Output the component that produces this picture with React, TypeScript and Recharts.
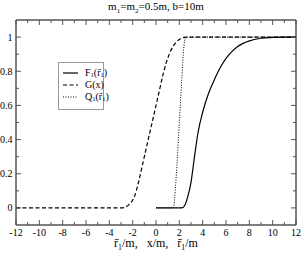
import React from 'react';
import { LineChart, Line, XAxis, YAxis, Legend } from 'recharts';

// F1(r1) – solid
const fX = [0, 1, 2, 2.3, 2.5, 2.7, 3.0, 3.3, 3.6, 4.0, 4.5, 5.0, 5.5, 6.0, 6.5, 7.0, 8.0, 9.0, 10.0, 11.0, 12.0];
const fY = [0, 0, 0, 0.002, 0.02, 0.06, 0.15, 0.3, 0.44, 0.56, 0.67, 0.75, 0.82, 0.875, 0.915, 0.945, 0.978, 0.993, 0.998, 1, 1];

// G(x) – dashed
const gX = [-12, -4, -3, -2.7, -2.4, -2.1, -1.8, -1.5, -1.2, -0.9, -0.6, -0.3, 0, 0.3, 0.6, 0.9, 1.2, 1.5, 1.8, 2.1, 2.4, 2.7, 12];
const gY = [0, 0, 0, 0.003, 0.015, 0.035, 0.075, 0.15, 0.24, 0.33, 0.42, 0.51, 0.6, 0.69, 0.78, 0.855, 0.91, 0.95, 0.975, 0.99, 0.998, 1, 1];

// Q1(r1) – dotted
const qX = [0, 1, 1.5, 1.6, 1.7, 1.8, 1.9, 2.0, 2.1, 2.2, 2.3, 2.4, 2.5, 2.6, 3, 12];
const qY = [0, 0, 0, 0.06, 0.15, 0.26, 0.38, 0.5, 0.62, 0.74, 0.86, 0.95, 0.99, 1, 1, 1];

const xTicks = [-12, -11, -10, -9, -8, -7, -6, -5, -4, -3, -2, -1, 0, 1, 2, 3, 4, 5, 6, 7, 8, 9, 10, 11, 12];
const yTicks = [0, 0.1, 0.2, 0.3, 0.4, 0.5, 0.6, 0.7, 0.8, 0.9, 1];

// [text, isSubscript]
const rBar = 'r\u0304';
const titleParts: [string, boolean][] = [['m', false], ['1', true], ['=m', false], ['2', true], ['=0.5m, b=10m', false]];
const xLabelParts: [string, boolean][] = [
  [rBar, false], ['1', true], ['/m,\u00a0\u00a0 x/m,\u00a0\u00a0 ' + rBar, false], ['1', true], ['/m', false],
];

const zip = (xs: number[], ys: number[]) => xs.map((x, i) => ({ x, y: ys[i] }));
const fData = zip(fX, fY);
const gData = zip(gX, gY);
const qData = zip(qX, qY);

const FONT = '"Liberation Serif", "DejaVu Serif", serif';
const AXIS = '#555';
const LEFT = 16, RIGHT = 296, TOP = 20, BOTTOM = 225;
const MID = (LEFT + RIGHT) / 2;

const isMajorX = (v: number) => Math.abs(v) % 2 === 0;
const isMajorY = (v: number) => Math.round(v * 10) % 2 === 0;
const fmtY = (v: number) => (v === 0 ? '0' : v === 1 ? '1' : v.toFixed(1));

const SubText = ({ x, y, size, parts }: { x: number; y: number; size: number; parts: [string, boolean][] }) => {
  const shift = size * 0.25;
  let prevSub = false;
  return (
    <text x={x} y={y} textAnchor="middle" fontSize={size} fontFamily={FONT} fill="#000">
      {parts.map(([t, sub], i) => {
        const dy = sub && !prevSub ? shift : !sub && prevSub ? -shift : 0;
        prevSub = sub;
        return (
          <tspan key={i} dy={dy} fontSize={sub ? size * 0.65 : size}>
            {t}
          </tspan>
        );
      })}
    </text>
  );
};

const BottomTick = (p: any) => {
  const v = p.payload.value;
  const major = isMajorX(v);
  return (
    <g>
      <line x1={p.x} x2={p.x} y1={BOTTOM} y2={BOTTOM - (major ? 5 : 3)} stroke={AXIS} />
      {major && (
        <text x={p.x} y={BOTTOM + 10.5} textAnchor="middle" fontSize={10} fontFamily={FONT} fill="#000">
          {v}
        </text>
      )}
    </g>
  );
};

const TopTick = (p: any) => {
  const major = isMajorX(p.payload.value);
  return <line x1={p.x} x2={p.x} y1={TOP} y2={TOP + (major ? 5 : 3)} stroke={AXIS} />;
};

const LeftTick = (p: any) => {
  const v = p.payload.value;
  const major = isMajorY(v);
  return (
    <g>
      <line x1={LEFT} x2={LEFT + (major ? 5 : 3)} y1={p.y} y2={p.y} stroke={AXIS} />
      {major && (
        <text x={LEFT - 3.5} y={p.y + 3.5} textAnchor="end" fontSize={10} fontFamily={FONT} fill="#000">
          {fmtY(v)}
        </text>
      )}
    </g>
  );
};

const RightTick = (p: any) => {
  const major = isMajorY(p.payload.value);
  return <line x1={RIGHT} x2={RIGHT - (major ? 5 : 3)} y1={p.y} y2={p.y} stroke={AXIS} />;
};

const Sub = ({ children }: { children: React.ReactNode }) => (
  <span style={{ fontSize: '0.65em', position: 'relative', top: '0.3em' }}>{children}</span>
);

const legendLabels: Record<string, React.ReactNode> = {
  F: <>F<Sub>1</Sub>({rBar}<Sub>1</Sub>)</>,
  G: <>G(x)</>,
  Q: <>Q<Sub>1</Sub>({rBar}<Sub>1</Sub>)</>,
};

const renderLegend = (props: any) => (
  <div
    style={{
      border: '1px solid #999',
      background: '#fff',
      width: 44,
      height: 42,
      boxSizing: 'content-box',
      paddingTop: 4,
      fontFamily: FONT,
      fontSize: 10,
      color: '#000',
    }}
  >
    {props.payload.map((entry: any) => (
      <div key={entry.value} style={{ display: 'flex', alignItems: 'center', height: 12 }}>
        <svg width={26} height={12} style={{ flex: 'none' }}>
          <line
            x1={4}
            x2={19}
            y1={6}
            y2={6}
            stroke="#000"
            strokeWidth={1.2}
            strokeDasharray={entry.payload.strokeDasharray}
          />
        </svg>
        <span style={{ whiteSpace: 'nowrap', lineHeight: '12px', color: '#000' }}>{legendLabels[entry.value]}</span>
      </div>
    ))}
  </div>
);

export default function App() {
  return (
    <div style={{ position: 'absolute', left: 0, top: 0, width: 303, height: 255, fontFamily: FONT }}>
      <LineChart
        width={303}
        height={255}
        margin={{ top: TOP - 1, right: 303 - RIGHT - 1, bottom: 255 - BOTTOM - 1, left: LEFT - 1 }}
      >
        <XAxis
          dataKey="x"
          type="number"
          domain={[-12, 12]}
          ticks={xTicks}
          interval={0}
          height={1}
          tickSize={0}
          tickMargin={0}
          tickLine={false}
          tick={<BottomTick />}
          axisLine={{ stroke: AXIS, strokeWidth: 1.5 }}
          label={() => <SubText x={MID} y={247} size={12} parts={xLabelParts} />}
          allowDataOverflow
        />
        <XAxis
          xAxisId="top"
          orientation="top"
          dataKey="x"
          type="number"
          domain={[-12, 12]}
          ticks={xTicks}
          interval={0}
          height={1}
          tickSize={0}
          tickMargin={0}
          tickLine={false}
          tick={<TopTick />}
          axisLine={{ stroke: AXIS, strokeWidth: 1.5 }}
          label={() => <SubText x={MID} y={10} size={11} parts={titleParts} />}
          allowDataOverflow
        />
        <YAxis
          type="number"
          domain={[-0.1, 1.1]}
          ticks={yTicks}
          interval={0}
          width={1}
          tickSize={0}
          tickMargin={0}
          tickLine={false}
          tick={<LeftTick />}
          axisLine={{ stroke: AXIS, strokeWidth: 1.5 }}
          allowDataOverflow
        />
        <YAxis
          yAxisId="right"
          orientation="right"
          type="number"
          domain={[-0.1, 1.1]}
          ticks={yTicks}
          interval={0}
          width={1}
          tickSize={0}
          tickMargin={0}
          tickLine={false}
          tick={<RightTick />}
          axisLine={{ stroke: AXIS, strokeWidth: 1.5 }}
          allowDataOverflow
        />
        <Legend
          layout="vertical"
          align="center"
          verticalAlign="middle"
          content={renderLegend}
          wrapperStyle={{ left: 58, top: 62, width: 46, height: 48 }}
        />
        <Line
          name="F"
          data={fData}
          dataKey="y"
          type="monotone"
          stroke="#000"
          strokeWidth={1.2}
          dot={false}
          isAnimationActive={false}
        />
        <Line
          name="G"
          data={gData}
          dataKey="y"
          type="monotone"
          stroke="#000"
          strokeWidth={1.2}
          strokeDasharray="4 2.5"
          dot={false}
          isAnimationActive={false}
        />
        <Line
          name="Q"
          data={qData}
          dataKey="y"
          type="monotone"
          stroke="#000"
          strokeWidth={1}
          strokeDasharray="1 1.5"
          dot={false}
          isAnimationActive={false}
        />
      </LineChart>
    </div>
  );
}
